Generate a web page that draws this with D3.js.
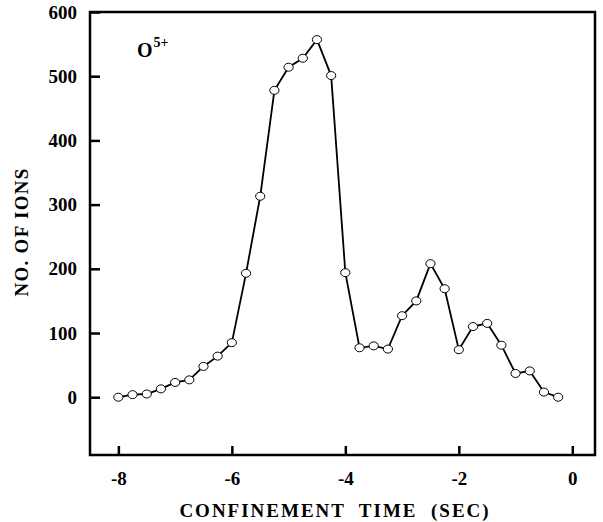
<!DOCTYPE html>
<html>
<head>
<meta charset="utf-8">
<script src="https://cdn.jsdelivr.net/npm/d3@7"></script>
<style>
  body { margin: 0; background: #fff; }
  svg text { font-family: "Liberation Serif", "Times New Roman", serif; font-weight: bold; fill: #000; }
</style>
</head>
<body>
<div id="chart"></div>
<script>
// confinement time (sec) and number of ions
const times = [-8, -7.75, -7.5, -7.25, -7, -6.75, -6.5, -6.25, -6, -5.75, -5.5, -5.25, -5, -4.75, -4.5, -4.25,
               -4, -3.75, -3.5, -3.25, -3, -2.75, -2.5, -2.25, -2, -1.75, -1.5, -1.25, -1, -0.75, -0.5, -0.25];
const ions = [0, 4, 5, 13, 23, 27, 48, 64, 85, 193, 313, 478, 514, 528, 557, 501,
              194, 77, 80, 75, 127, 150, 208, 169, 74, 110, 115, 81, 37, 41, 8, 0];
const xTicks = [-8, -6, -4, -2, 0];
const yTicks = [0, 100, 200, 300, 400, 500, 600];

const W = 603, H = 522;
const MARGIN = { top: 12, right: 8, bottom: 67, left: 90 };

const svg = d3.select("#chart").append("svg")
    .attr("width", W)
    .attr("height", H);

const x = d3.scaleLinear().domain([-8.5, 0.4]).range([MARGIN.left, W - MARGIN.right]);
const y = d3.scaleLinear().domain([-90, 600]).range([H - MARGIN.bottom, MARGIN.top]);

// frame
svg.append("rect")
    .attr("x", x(-8.5))
    .attr("y", y(600))
    .attr("width", x(0.4) - x(-8.5))
    .attr("height", y(-90) - y(600))
    .attr("fill", "none")
    .attr("stroke", "#000")
    .attr("stroke-width", 2.5);

// plain hyphen for negatives, like the original
const fmt = d => String(d);

// x axis, ticks pointing inward
const xAxis = svg.append("g")
    .attr("transform", `translate(0,${y(-90)})`)
    .call(d3.axisBottom(x).tickValues(xTicks).tickSize(-9).tickPadding(16.5).tickFormat(fmt));
xAxis.select(".domain").remove();
xAxis.selectAll("line").attr("stroke-width", 2.5);
xAxis.selectAll("text").attr("font-size", 19).attr("font-family", null);

// y axis, ticks pointing inward
const yAxis = svg.append("g")
    .attr("transform", `translate(${x(-8.5)},0)`)
    .call(d3.axisLeft(y).tickValues(yTicks).tickSize(-10).tickPadding(13).tickFormat(fmt));
yAxis.select(".domain").remove();
yAxis.selectAll("line").attr("stroke-width", 2.5);
yAxis.selectAll("text").attr("font-size", 19).attr("font-family", null);

// series
const pts = times.map((t, i) => [t, ions[i]]);

svg.append("path")
    .datum(pts)
    .attr("fill", "none")
    .attr("stroke", "#000")
    .attr("stroke-width", 1.8)
    .attr("d", d3.line().x(d => x(d[0])).y(d => y(d[1])));

svg.selectAll(".pt")
    .data(pts)
    .enter()
    .append("ellipse")
    .attr("class", "pt")
    .attr("cx", d => x(d[0]))
    .attr("cy", d => y(d[1]))
    .attr("rx", 4.6)
    .attr("ry", 4)
    .attr("fill", "#fff")
    .attr("stroke", "#000")
    .attr("stroke-width", 1);

// label inside the plot
const ion = svg.append("text")
    .attr("x", 137)
    .attr("y", 57)
    .attr("font-size", 20);
ion.append("tspan").text("O");
ion.append("tspan").attr("font-size", 14).attr("dy", -10).attr("dx", 1).text("5+");

// axis titles
svg.append("text")
    .attr("x", 335)
    .attr("y", 517)
    .attr("text-anchor", "middle")
    .attr("font-size", 19)
    .attr("letter-spacing", 2)
    .style("white-space", "pre")
    .text("CONFINEMENT  TIME  (SEC)");

svg.append("text")
    .attr("transform", "translate(28,232) rotate(-90)")
    .attr("text-anchor", "middle")
    .attr("font-size", 19)
    .attr("letter-spacing", 1.3)
    .text("NO. OF IONS");
</script>
</body>
</html>
